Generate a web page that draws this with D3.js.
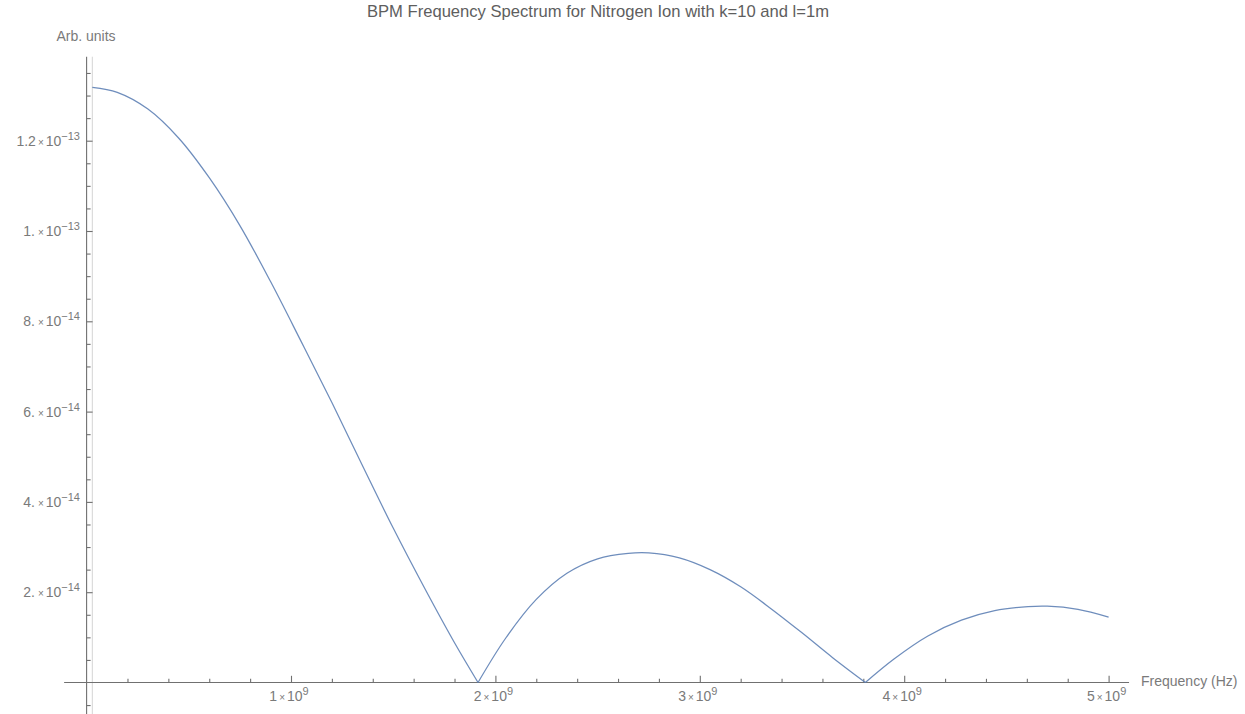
<!DOCTYPE html>
<html>
<head>
<meta charset="utf-8">
<script src="https://cdn.jsdelivr.net/npm/d3@7"></script>
<style>
  html, body { margin: 0; padding: 0; background: #fff; }
  svg { display: block; font-family: "Liberation Sans", Arial, sans-serif; }
</style>
</head>
<body>
<svg id="chart" width="1245" height="714"></svg>
<script>
// Spectrum samples: frequency (Hz) and magnitude (arb. units)
const freq = [
  0.028e9, 0.15e9, 0.30e9, 0.45e9, 0.60e9, 0.75e9, 0.90e9, 1.05e9, 1.20e9,
  1.35e9, 1.50e9, 1.65e9, 1.80e9, 1.915e9,
  2.05e9, 2.20e9, 2.35e9, 2.50e9, 2.65e9, 2.75e9, 2.90e9, 3.05e9, 3.20e9,
  3.35e9, 3.50e9, 3.65e9, 3.81e9,
  3.95e9, 4.116e9, 4.28e9, 4.443e9, 4.606e9, 4.70e9, 4.85e9, 5.0e9
];
const amp = [
  13.18e-14, 13.07e-14, 12.70e-14, 12.06e-14, 11.18e-14, 10.12e-14, 8.88e-14, 7.55e-14, 6.20e-14,
  4.80e-14, 3.42e-14, 2.12e-14, 0.88e-14, 0,
  0.98e-14, 1.84e-14, 2.42e-14, 2.74e-14, 2.86e-14, 2.87e-14, 2.76e-14, 2.50e-14, 2.12e-14,
  1.63e-14, 1.10e-14, 0.55e-14, 0,
  0.52e-14, 1.03e-14, 1.38e-14, 1.59e-14, 1.68e-14, 1.69e-14, 1.62e-14, 1.45e-14
];

// Tick values and their labels (mantissa, exponent)
const xMajorTicks = [1e9, 2e9, 3e9, 4e9, 5e9];
const xMajorLabels = [["1", "9"], ["2", "9"], ["3", "9"], ["4", "9"], ["5", "9"]];
const yMajorTicks = [2e-14, 4e-14, 6e-14, 8e-14, 1e-13, 1.2e-13];
const yMajorLabels = [["2.", "\u221214"], ["4.", "\u221214"], ["6.", "\u221214"],
                      ["8.", "\u221214"], ["1.", "\u221213"], ["1.2", "\u221213"]];

const title = "BPM Frequency Spectrum for Nitrogen Ion with k=10 and l=1m";
const xAxisTitle = "Frequency (Hz)";
const yAxisTitle = "Arb. units";

const svg = d3.select("#chart");
const axisColor = "#707070";
const labelColor = "#7a7a7a";
const lineColor = "#5E81B5";

const x = d3.scaleLinear().domain([0, 5e9]).range([86.6, 1108.6]);
const y = d3.scaleLinear().domain([0, 1.2e-13]).range([682.5, 140.7]);

// Minor ticks
const xMinor = d3.range(1, 26).map(i => i * 0.2e9).filter(v => Math.abs(v / 1e9 - Math.round(v / 1e9)) > 1e-6);
const yMinor = d3.range(-1, 28).map(i => i * 0.5e-14)
  .filter(v => Math.abs(v) > 1e-20 && Math.abs(v / 2e-14 - Math.round(v / 2e-14)) > 1e-6);

// Reference line at the start of the sampled range
svg.append("line")
  .attr("x1", x(freq[0])).attr("x2", x(freq[0]))
  .attr("y1", y(1.386e-13)).attr("y2", 714)
  .attr("stroke", "#d4d4d4").attr("stroke-width", 1);

// Axis lines
svg.append("line")
  .attr("x1", x(-0.11e9)).attr("x2", x(5.1e9))
  .attr("y1", y(0)).attr("y2", y(0))
  .attr("stroke", axisColor).attr("stroke-width", 1.1);
svg.append("line")
  .attr("x1", x(0)).attr("x2", x(0))
  .attr("y1", y(1.386e-13)).attr("y2", 714)
  .attr("stroke", axisColor).attr("stroke-width", 1.1);

// X ticks (pointing up into the plot)
const gx = svg.append("g").attr("transform", `translate(0,${y(0)})`);
gx.call(d3.axisBottom(x).tickValues(xMinor).tickSize(-3.7).tickFormat(""));
gx.call(g => g.select(".domain").remove());
const gxMajor = svg.append("g").attr("transform", `translate(0,${y(0)})`);
gxMajor.call(d3.axisBottom(x).tickValues(xMajorTicks).tickSize(-6.7).tickFormat(""));
gxMajor.call(g => g.select(".domain").remove());
[gx, gxMajor].forEach(g => g.selectAll(".tick line").attr("stroke", axisColor).attr("stroke-width", 1.1));

// Y ticks (pointing right into the plot)
const gy = svg.append("g").attr("transform", `translate(${x(0)},0)`);
gy.call(d3.axisLeft(y).tickValues(yMinor).tickSize(-4).tickFormat(""));
gy.call(g => g.select(".domain").remove());
const gyMajor = svg.append("g").attr("transform", `translate(${x(0)},0)`);
gyMajor.call(d3.axisLeft(y).tickValues(yMajorTicks).tickSize(-6).tickFormat(""));
gyMajor.call(g => g.select(".domain").remove());
[gy, gyMajor].forEach(g => g.selectAll(".tick line").attr("stroke", axisColor).attr("stroke-width", 1.1));

// Scientific-notation label: mantissa × 10^exp
function sciLabel(sel, mant, exp) {
  sel.append("tspan").attr("font-size", 14).text(mant);
  sel.append("tspan").attr("font-size", 10).attr("dx", mant.endsWith(".") ? 3 : 2).text("\u00d7");
  sel.append("tspan").attr("font-size", 14).attr("dx", 2).text("10");
  sel.append("tspan").attr("font-size", 11).attr("dy", -6).text(exp);
}

xMajorTicks.forEach((v, i) => {
  const t = svg.append("text")
    .attr("x", x(v) - 2).attr("y", 701)
    .attr("text-anchor", "middle")
    .attr("fill", labelColor);
  sciLabel(t, xMajorLabels[i][0], xMajorLabels[i][1]);
});

yMajorTicks.forEach((v, i) => {
  const t = svg.append("text")
    .attr("x", 80).attr("y", y(v) + 5)
    .attr("text-anchor", "end")
    .attr("fill", labelColor);
  sciLabel(t, yMajorLabels[i][0], yMajorLabels[i][1]);
});

// Axis titles
svg.append("text")
  .attr("x", 86).attr("y", 41)
  .attr("text-anchor", "middle")
  .attr("font-size", 14).attr("fill", labelColor)
  .text(yAxisTitle);
svg.append("text")
  .attr("x", 1141).attr("y", y(0) + 3)
  .attr("text-anchor", "start")
  .attr("font-size", 14).attr("fill", labelColor)
  .text(xAxisTitle);

// Plot title
svg.append("text")
  .attr("x", 598).attr("y", 17)
  .attr("text-anchor", "middle")
  .attr("font-size", 16.6).attr("fill", "#5e5e5e")
  .text(title);

// Spectrum curve: one smooth segment per lobe, sharp at the nulls
const pts = freq.map((f, i) => ({ f, a: amp[i] }));
const segments = [];
let current = [];
pts.forEach(p => {
  current.push(p);
  if (p.a === 0 && current.length > 1) {
    segments.push(current);
    current = [p];
  }
});
if (current.length > 1) segments.push(current);

const line = d3.line()
  .x(d => x(d.f))
  .y(d => y(d.a))
  .curve(d3.curveCatmullRom.alpha(0.5));

svg.append("g").selectAll("path")
  .data(segments)
  .join("path")
  .attr("d", line)
  .attr("fill", "none")
  .attr("stroke", lineColor)
  .attr("stroke-width", 1.25)
  .attr("stroke-opacity", 0.9);
</script>
</body>
</html>
